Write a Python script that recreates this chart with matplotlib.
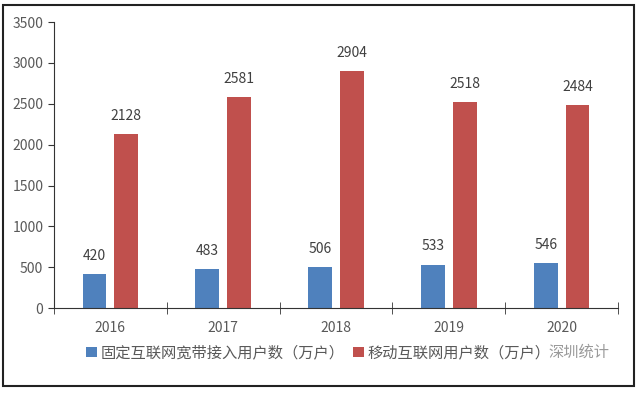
import matplotlib.pyplot as plt
import numpy as np
from matplotlib.patches import Rectangle

plt.rcParams['font.family'] = ['Noto Sans CJK SC', 'DejaVu Sans']

# 数据
years = ['2016', '2017', '2018', '2019', '2020']
fixed_users = [420, 483, 506, 533, 546]
mobile_users = [2128, 2581, 2904, 2518, 2484]

blue = '#4F81BD'
red = '#C0504D'
grey = '#595959'

fig = plt.figure(figsize=(6.4, 3.95), dpi=100)
ax = fig.add_axes([0.084, 0.22, 0.882, 0.724])

x = np.arange(len(years))
w = 0.21
b1 = ax.bar(x - 0.14, fixed_users, w, color=blue, label='固定互联网宽带接入用户数（万户）')
b2 = ax.bar(x + 0.14, mobile_users, w, color=red, label='移动互联网用户数（万户）')
ax.bar_label(b1, padding=8, fontsize=10, color='#404040')
ax.bar_label(b2, padding=8, fontsize=10, color='#404040')

ax.set_xlim(-0.5, len(years) - 0.5)
ax.set_ylim(0, 3500)
ax.set_yticks(range(0, 3501, 500))
ax.set_xticks(x)
ax.set_xticklabels(years)
ax.set_xticks(np.arange(-0.5, len(years), 1), minor=True)
ax.tick_params(axis='x', which='major', length=0, pad=9, labelsize=10, labelcolor=grey)
ax.tick_params(axis='x', which='minor', length=8, direction='inout', color='#333333')
ax.tick_params(axis='y', length=4, labelsize=10, labelcolor=grey, color='#333333')

for s in ['top', 'right']:
    ax.spines[s].set_visible(False)
for s in ['left', 'bottom']:
    ax.spines[s].set_color('#333333')

leg = fig.legend(loc='center left', bbox_to_anchor=(0.135, 0.107), ncol=2, frameon=False,
                 fontsize=11, handlelength=0.7, handleheight=0.7, handletextpad=0.2,
                 columnspacing=0.6, labelcolor=grey, borderpad=0, borderaxespad=0)

# 水印
fig.text(0.905, 0.107, '深圳统计', fontsize=11, color='#9a9a9a', ha='center', va='center',
         bbox=dict(facecolor='white', edgecolor='none', alpha=0.8, pad=1))

# 外框
fig.add_artist(Rectangle((0.005, 0.023), 0.985, 0.964, transform=fig.transFigure,
                         fill=False, edgecolor='#222222', linewidth=1.5))

plt.savefig('out.png', dpi=100)
